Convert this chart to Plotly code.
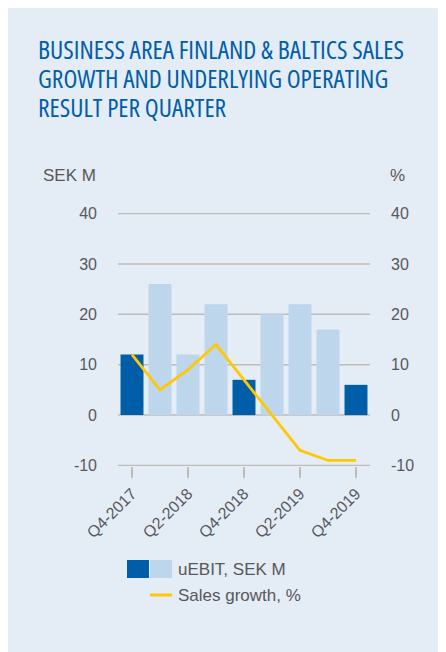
import plotly.graph_objects as go

quarters = ["Q4-2017", "Q1-2018", "Q2-2018", "Q3-2018", "Q4-2018",
            "Q1-2019", "Q2-2019", "Q3-2019", "Q4-2019"]
uebit = [12, 26, 12, 22, 7, 20, 22, 17, 6]
sales_growth = [12, 5, 9, 14, 7, 0, -7, -9, -9]
tick_quarters = ["Q4-2017", "Q2-2018", "Q4-2018", "Q2-2019", "Q4-2019"]
y_ticks = [-10, 0, 10, 20, 30, 40]
y_tick_labels = ["-10", "0", "10", "20", "30", "40"]

DARK = "#005EA8"
LIGHT = "#BED6EB"
YELLOW = "#FFC800"
BG = "#E4ECF6"
GRID = "#BFBDB8"
TXT = "#58585A"
FONT = "Liberation Sans, Arial, sans-serif"

W, H = 446, 652
OFF = 8  # page body offset
L, R, T, B = 118, 370, 213, 466  # plot area in screen pixels


def xp(px):
    return (px - L) / (R - L)


def yp(py):
    return (B - py) / (B - T)


bar_colors = [DARK if q.startswith("Q4") else LIGHT for q in quarters]

fig = go.Figure()
fig.add_trace(go.Bar(x=quarters, y=uebit, marker=dict(color=bar_colors, line=dict(width=0)),
                     name="uEBIT, SEK M", showlegend=False, yaxis="y"))
fig.add_trace(go.Scatter(x=quarters, y=sales_growth, mode="lines",
                         line=dict(color=YELLOW, width=2.8), name="Sales growth, %",
                         showlegend=False, yaxis="y2"))

# horizontal gridlines at the y tick values
shapes = [dict(type="line", xref="paper", yref="y", x0=0, x1=1, y0=v, y1=v,
               line=dict(color=GRID, width=1.5), layer="between") for v in y_ticks]
shapes += [
    dict(type="rect", xref="paper", yref="paper", x0=xp(127), x1=xp(149), y0=yp(578), y1=yp(560),
         fillcolor=DARK, line=dict(width=0)),
    dict(type="rect", xref="paper", yref="paper", x0=xp(150), x1=xp(172), y0=yp(578), y1=yp(560),
         fillcolor=LIGHT, line=dict(width=0)),
    dict(type="line", xref="paper", yref="paper", x0=xp(150), x1=xp(172), y0=yp(595), y1=yp(595),
         line=dict(color=YELLOW, width=3)),
]

title_lines = ["BUSINESS AREA FINLAND &amp; BALTICS SALES",
               "GROWTH AND UNDERLYING OPERATING",
               "RESULT PER QUARTER"]
annotations = []
for i, line in enumerate(title_lines):
    annotations.append(dict(text=f'<span style="font-stretch:condensed">{line}</span>',
                            xref="paper", yref="paper", x=xp(37), y=yp(48.5 + 29 * i),
                            xanchor="left", yanchor="middle", showarrow=False, borderpad=0,
                            font=dict(family="Open Sans", size=25.5, color=DARK)))
annotations += [
    dict(text="SEK M", xref="paper", yref="paper", x=xp(98), y=yp(175), xanchor="right",
         yanchor="middle", showarrow=False, font=dict(family=FONT, size=17, color=TXT)),
    dict(text="%", xref="paper", yref="paper", x=xp(388), y=yp(175), xanchor="left",
         yanchor="middle", showarrow=False, font=dict(family=FONT, size=17, color=TXT)),
    dict(text="uEBIT, SEK M", xref="paper", yref="paper", x=xp(176), y=yp(569), xanchor="left",
         yanchor="middle", showarrow=False, font=dict(family=FONT, size=17, color=TXT)),
    dict(text="Sales growth, %", xref="paper", yref="paper", x=xp(176), y=yp(595), xanchor="left",
         yanchor="middle", showarrow=False, font=dict(family=FONT, size=17, color=TXT)),
]

fig.update_layout(
    width=W, height=H,
    margin=dict(l=L - OFF, r=W - (R - OFF), t=T - OFF, b=H - (B - OFF), pad=0),
    paper_bgcolor=BG, plot_bgcolor="rgba(0,0,0,0)",
    font=dict(family=FONT, size=16, color=TXT),
    bargap=0.18,
    shapes=shapes, annotations=annotations,
    xaxis=dict(type="category", categoryorder="array", categoryarray=quarters,
               tickmode="array", tickvals=tick_quarters, ticktext=tick_quarters,
               tickangle=-45, ticks="outside", ticklen=11, tickwidth=1.5, tickcolor=GRID,
               showgrid=False, showline=False, zeroline=False,
               tickfont=dict(family=FONT, size=16, color=TXT)),
    yaxis=dict(range=[-10.1, 40.1], tickmode="array", tickvals=y_ticks, ticktext=y_tick_labels,
               showgrid=False, zeroline=False, showline=False, ticks="", ticklabelstandoff=20,
               tickfont=dict(family=FONT, size=16, color=TXT)),
    yaxis2=dict(range=[-10.1, 40.1], tickmode="array", tickvals=y_ticks, ticktext=y_tick_labels,
                overlaying="y", side="right", showgrid=False,
                zeroline=False, showline=False, ticks="", ticklabelstandoff=20,
                tickfont=dict(family=FONT, size=16, color=TXT)),
)

fig.write_html("out.html")
